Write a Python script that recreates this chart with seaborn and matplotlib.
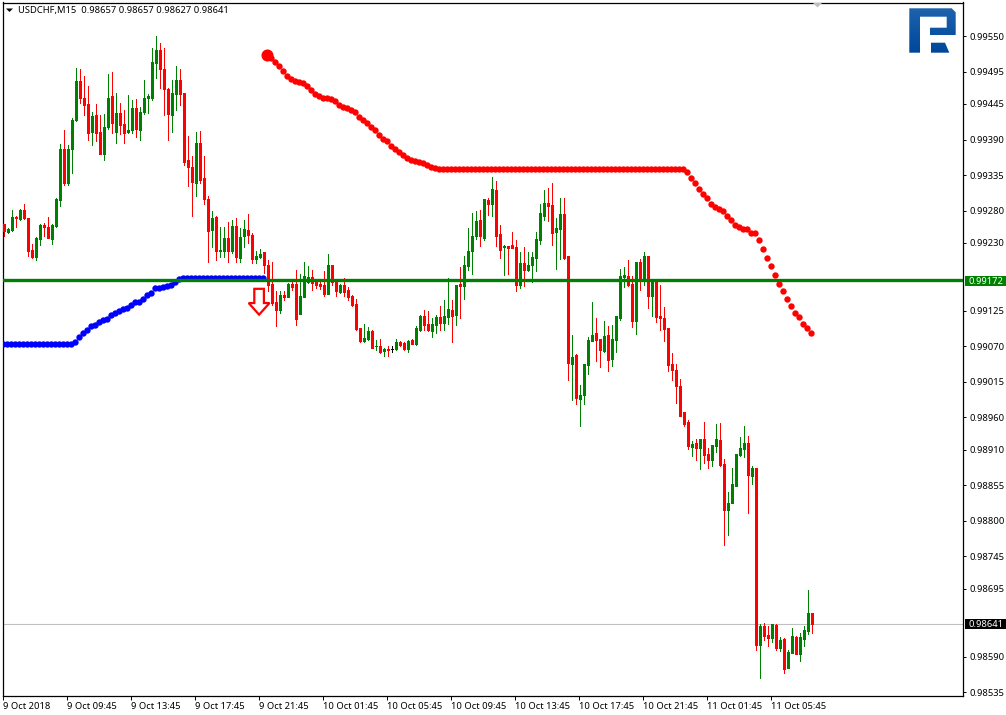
import numpy as np
import pandas as pd
import seaborn as sns
import matplotlib
matplotlib.use("Agg")
import matplotlib.pyplot as plt
from matplotlib.patches import Polygon, Rectangle, PathPatch
from matplotlib.path import Path
from matplotlib.transforms import blended_transform_factory

# Prices are in points (1e-5)
opens = [99260,99247,99250,99270,99267,99281,99268,99219,99209,99236,
99258,99254,99236,99256,99297,99376,99322,99375,99420,99481,
99455,99445,99401,99428,99401,99368,99409,99457,99401,99431,
99414,99401,99405,99438,99405,99432,99455,99454,99509,99529,
99499,99468,99428,99461,99482,99462,99358,99348,99323,99384,
99330,99298,99250,99270,99217,99217,99238,99217,99256,99206,
99240,99250,99243,99205,99209,99216,99196,99166,99139,99126,
99150,99147,99167,99167,99120,99147,99169,99177,99170,99167,
99165,99151,99196,99170,99154,99165,99157,99148,99136,99098,
99078,99081,99093,99070,99071,99063,99066,99066,99066,99076,
99075,99066,99080,99073,99096,99117,99105,99093,99103,99115,
99106,99116,99126,99119,99167,99164,99195,99218,99241,99266,
99237,99297,99290,99312,99244,99223,99225,99227,99223,99165,
99199,99188,99196,99207,99235,99272,99292,99289,99247,99252,
99275,99210,99043,99057,98989,98995,99041,99078,99091,99081,
99063,99088,99051,99080,99114,99177,99179,99167,99109,99201,
99171,99210,99148,99173,99117,99114,99099,99043,99034,99009,
98968,98953,98915,98920,98913,98927,98904,98894,98916,98925,
98888,98817,98827,98854,98902,98911,98920,98869,98882,98608,
98637,98623,98619,98639,98603,98617,98572,98596,98620,98594,
98617,98630,98657]
highs = [99260,99253,99281,99272,99283,99290,99268,99228,99239,99260,
99261,99270,99259,99299,99383,99405,99382,99423,99500,99499,
99488,99473,99433,99445,99428,99430,99492,99495,99462,99446,
99436,99459,99451,99453,99441,99482,99460,99531,99550,99540,
99531,99469,99482,99504,99499,99462,99395,99364,99402,99403,
99364,99302,99280,99271,99255,99255,99263,99266,99268,99253,
99266,99275,99245,99217,99220,99216,99204,99201,99155,99155,
99156,99168,99173,99188,99182,99200,99194,99188,99173,99169,
99187,99213,99196,99174,99167,99175,99162,99150,99143,99098,
99105,99100,99096,99080,99081,99068,99071,99070,99081,99079,
99077,99080,99082,99101,99119,99126,99124,99114,99118,99133,
99142,99175,99141,99165,99192,99210,99253,99276,99279,99281,
99298,99299,99332,99326,99258,99227,99226,99247,99235,99216,
99223,99216,99216,99247,99290,99312,99315,99322,99269,99300,
99300,99210,99088,99058,99010,99043,99084,99139,99114,99081,
99109,99102,99103,99117,99190,99193,99204,99179,99201,99205,
99216,99210,99173,99173,99165,99131,99099,99060,99043,99020,
98968,98956,98923,98926,98927,98953,98912,98917,98950,98951,
98895,98844,98881,98903,98930,98947,98931,98885,98882,98641,
98642,98637,98640,98641,98620,98619,98600,98634,98622,98626,
98637,98693,98657]
lows = [99240,99245,99249,99255,99266,99267,99210,99206,99203,99227,
99240,99237,99228,99254,99287,99320,99320,99338,99418,99446,
99428,99390,99381,99387,99368,99358,99407,99400,99385,99399,
99385,99400,99400,99394,99389,99430,99431,99451,99485,99469,
99428,99389,99401,99436,99444,99351,99318,99271,99302,99322,
99291,99200,99224,99203,99209,99209,99201,99214,99201,99201,
99224,99230,99199,99199,99206,99183,99156,99134,99102,99122,
99142,99146,99157,99103,99120,99147,99168,99157,99160,99158,
99148,99151,99165,99148,99152,99148,99142,99133,99096,99077,
99077,99080,99068,99064,99059,99055,99055,99062,99064,99071,
99064,99062,99074,99072,99093,99095,99093,99085,99090,99096,
99095,99105,99076,99103,99114,99143,99188,99182,99236,99225,
99234,99273,99272,99225,99206,99181,99182,99222,99155,99160,
99164,99186,99169,99187,99228,99266,99264,99227,99190,99205,
99205,99018,98987,98981,98947,98981,99027,99078,99048,99038,
99061,99032,99040,99061,99111,99162,99164,99100,99089,99157,
99165,99129,99117,99108,99095,99078,99032,99018,98982,98962,
98947,98911,98901,98894,98880,98889,98882,98885,98907,98885,
98763,98778,98827,98854,98900,98899,98812,98857,98600,98557,
98616,98606,98613,98600,98599,98564,98572,98596,98594,98583,
98606,98625,98627]
closes = [99248,99252,99270,99268,99281,99268,99217,99209,99237,99258,
99255,99238,99258,99298,99376,99323,99376,99420,99480,99455,
99444,99400,99426,99400,99368,99409,99455,99415,99431,99413,
99400,99405,99438,99406,99433,99455,99457,99510,99528,99499,
99468,99430,99462,99482,99461,99355,99348,99324,99384,99327,
99298,99249,99268,99217,99219,99238,99217,99256,99208,99239,
99251,99243,99205,99210,99213,99196,99165,99137,99126,99150,
99146,99167,99162,99112,99148,99179,99177,99168,99165,99164,
99151,99196,99169,99156,99165,99154,99147,99134,99097,99078,
99083,99094,99068,99071,99061,99066,99065,99066,99077,99072,
99066,99078,99074,99099,99117,99103,99095,99105,99115,99106,
99117,99128,99117,99165,99164,99196,99218,99241,99264,99241,
99298,99290,99314,99241,99219,99225,99222,99222,99165,99199,
99188,99196,99208,99236,99276,99292,99287,99245,99253,99275,
99207,99044,99054,98990,98995,99043,99080,99088,99080,99064,
99086,99049,99081,99117,99179,99181,99165,99109,99201,99173,
99210,99148,99173,99116,99114,99097,99041,99034,99009,98962,
98950,98916,98919,98913,98927,98902,98894,98917,98927,98886,
98817,98827,98857,98903,98913,98920,98871,98882,98608,98637,
98622,98619,98640,98604,98616,98571,98597,98622,98594,98620,
98631,98657,98641]

blue_stop = [99074]*18 + [99076,99084,99090,99095,99101,99103,99108,99111,99113,99119,
99122,99125,99128,99129,99134,99138,99139,99144,99150,99153,
99160,99161,99162,99163,99165,99169,99174] + [99175]*21
red_stop = [99521,99516,99510,99503,99496,99489,99483,99481,99479,99477,
99473,99467,99461,99457,99455,99455,99452,99449,99444,99441,
99438,99436,99432,99425,99420,99415,99410,99404,99397,99391,
99387,99380,99375,99370,99366,99361,99358,99356,99355,99353,
99350,99348,99346,99345] + [99344]*61 + [99340,99331,99322,99313,99306,99299,99291,99286,
99283,99280,99271,99265,99258,99254,99251,99251,99245,99245,99235,99220,
99207,99194,99181,99167,99156,99144,99133,99122,99115,99105,99099,99091]

y_ticks = [99550,99495,99445,99390,99335,99280,99230,99125,99070,99015,
           98960,98910,98855,98800,98745,98695,98590,98535]
x_tick_labels = ["9 Oct 2018","9 Oct 09:45","9 Oct 13:45","9 Oct 17:45","9 Oct 21:45",
                 "10 Oct 01:45","10 Oct 05:45","10 Oct 09:45","10 Oct 13:45","10 Oct 17:45",
                 "10 Oct 21:45","11 Oct 01:45","11 Oct 05:45"]
x_tick_bars = [1,17,33,49,65,81,97,113,129,145,161,177,193]
level_price = 99172
last_price = 98641
header = "USDCHF,M15  0.98657 0.98657 0.98627 0.98641"

GREEN, RED, BLUE = "#008000", "#ff0000", "#0000ff"
FS = 6.75

sns.set_style("white")
plt.rcParams["font.family"] = ["Noto Sans", "DejaVu Sans"]

W, H = 1006, 715
fig = plt.figure(figsize=(W/100, H/100), dpi=100, facecolor="white")
ax = fig.add_axes([2.5/W, 1-696/H, (963.3-2.5)/W, (696-2.5)/H])

def P(v):
    return np.asarray(v, dtype=float) / 1e5

bars = np.arange(1, len(opens)+1)
df = pd.DataFrame({"bar": bars, "o": P(opens), "h": P(highs), "l": P(lows), "c": P(closes)})
df["color"] = np.where(df.c > df.o, GREEN, np.where(df.c < df.o, RED, "#000000"))

ax.axhline(P(last_price), color="#c0c0c0", lw=0.8, zorder=1)

ax.vlines(df.bar, df.l, df.h, colors=df.color, lw=0.72, zorder=2, antialiased=False)
# body: three pixels wide, one pixel minimum height
ax.vlines(df.bar, df[["o","c"]].min(axis=1), df[["o","c"]].max(axis=1), colors=df.color,
          lw=2.16, zorder=3, antialiased=False, capstyle="butt")
ax.bar(df.bar, (df.c-df.o).abs(), bottom=df[["o","c"]].min(axis=1), width=0.5,
       color=df.color, edgecolor=df.color, linewidth=0.72, zorder=3, antialiased=False)

blue_df = pd.DataFrame({"bar": bars[:len(blue_stop)]-0.25, "stop": P(blue_stop)})
red_df = pd.DataFrame({"bar": bars[66:66+len(red_stop)]-0.25, "stop": P(red_stop)})
sns.scatterplot(data=blue_df, x="bar", y="stop", color=BLUE, s=21, linewidth=0, ax=ax, zorder=4, legend=False)
sns.scatterplot(data=red_df, x="bar", y="stop", color=RED, s=21, linewidth=0, ax=ax, zorder=6, legend=False)
sns.scatterplot(data=red_df.iloc[:1], x="bar", y="stop", color=RED, s=75, linewidth=0, ax=ax, zorder=6, legend=False)

ax.axhline(P(level_price), color=GREEN, lw=2.4, zorder=5)

# sell arrow
cx, top, neck, tip = 64.85, P(99159), P(99137), P(99119)
ax.add_patch(Polygon([(cx-1.2, top), (cx+1.2, top), (cx+1.2, neck), (cx+2.6, neck), (cx, tip),
                      (cx-2.6, neck), (cx-1.2, neck)], closed=True, facecolor="white",
                     edgecolor=RED, lw=1.6, zorder=6))

ax.set_xlim(0.70, 240.9)
ax.set_ylim(P(98529), P(99602))
ax.set_xlabel(""); ax.set_ylabel("")
ax.yaxis.tick_right()
ax.set_yticks(P(y_ticks))
ax.set_yticklabels([f"{v/1e5:.5f}" for v in y_ticks], fontsize=FS, color="black")
ax.set_xticks(np.array(x_tick_bars)-0.25)
ax.set_xticklabels(x_tick_labels, fontsize=FS, color="black", ha="left")
ax.tick_params(axis="y", direction="out", length=2.2, width=0.7, pad=2.6, color="black", right=True, left=False)
ax.tick_params(axis="x", direction="out", length=2.6, width=0.7, pad=1.4, color="black", bottom=True)
for s in ax.spines.values():
    s.set_visible(True); s.set_color("black"); s.set_linewidth(0.9)

# price boxes on the axis
tr = blended_transform_factory(ax.transAxes, ax.transData)
for price, col in [(level_price, GREEN), (last_price, "#000000")]:
    ax.add_patch(Rectangle((1.0017, P(price-8)), 0.0425, P(15.5), transform=tr, facecolor=col,
                           edgecolor="none", clip_on=False, zorder=7))
    ax.text(1.0232, P(price), f"{price/1e5:.5f}", transform=tr, color="white", fontsize=FS,
            ha="center", va="center_baseline", zorder=8, clip_on=False)

# overlay in pixel coordinates for title, markers and logo
ov = fig.add_axes([0, 0, 1, 1], facecolor="none", zorder=10)
ov.set_xlim(0, W); ov.set_ylim(H, 0); ov.axis("off")
ov.text(18, 10.5, header, fontsize=FS, color="black", ha="left", va="center")
ov.add_patch(Polygon([(6, 8.5), (13, 8.5), (9.5, 12)], closed=True, facecolor="black", edgecolor="none"))
ov.add_patch(Polygon([(813, 3), (822, 3), (817.5, 7.5)], closed=True, facecolor="#c0c0c0", edgecolor="none"))

p_main = [(909.3,8.3),(951.7,8.3),(955.7,12.3),(955.7,35),(930,35),(930,27.7),(946.7,27.7),
          (946.7,16.7),(920,16.7),(920,52.7),(909.3,52.7),(909.3,8.3)]
p_leg = [(931,42.7),(945,42.7),(949.3,52.7),(931,52.7),(931,42.7)]
clip = Path.make_compound_path(Path(p_main, closed=True), Path(p_leg, closed=True))
patch = PathPatch(clip, facecolor="none", edgecolor="none", transform=ov.transData)
ov.add_patch(patch)
grad = np.linspace(0, 1, 64).reshape(-1, 1)
cmap = matplotlib.colors.LinearSegmentedColormap.from_list("logo", ["#1f62ad", "#0d55a3", "#00479b"])
im = ov.imshow(grad, extent=(909, 956, 53, 8), cmap=cmap, aspect="auto", interpolation="bilinear")
im.set_clip_path(patch)
ov.set_xlim(0, W); ov.set_ylim(H, 0)

fig.savefig("out.png", dpi=100, facecolor="white")
